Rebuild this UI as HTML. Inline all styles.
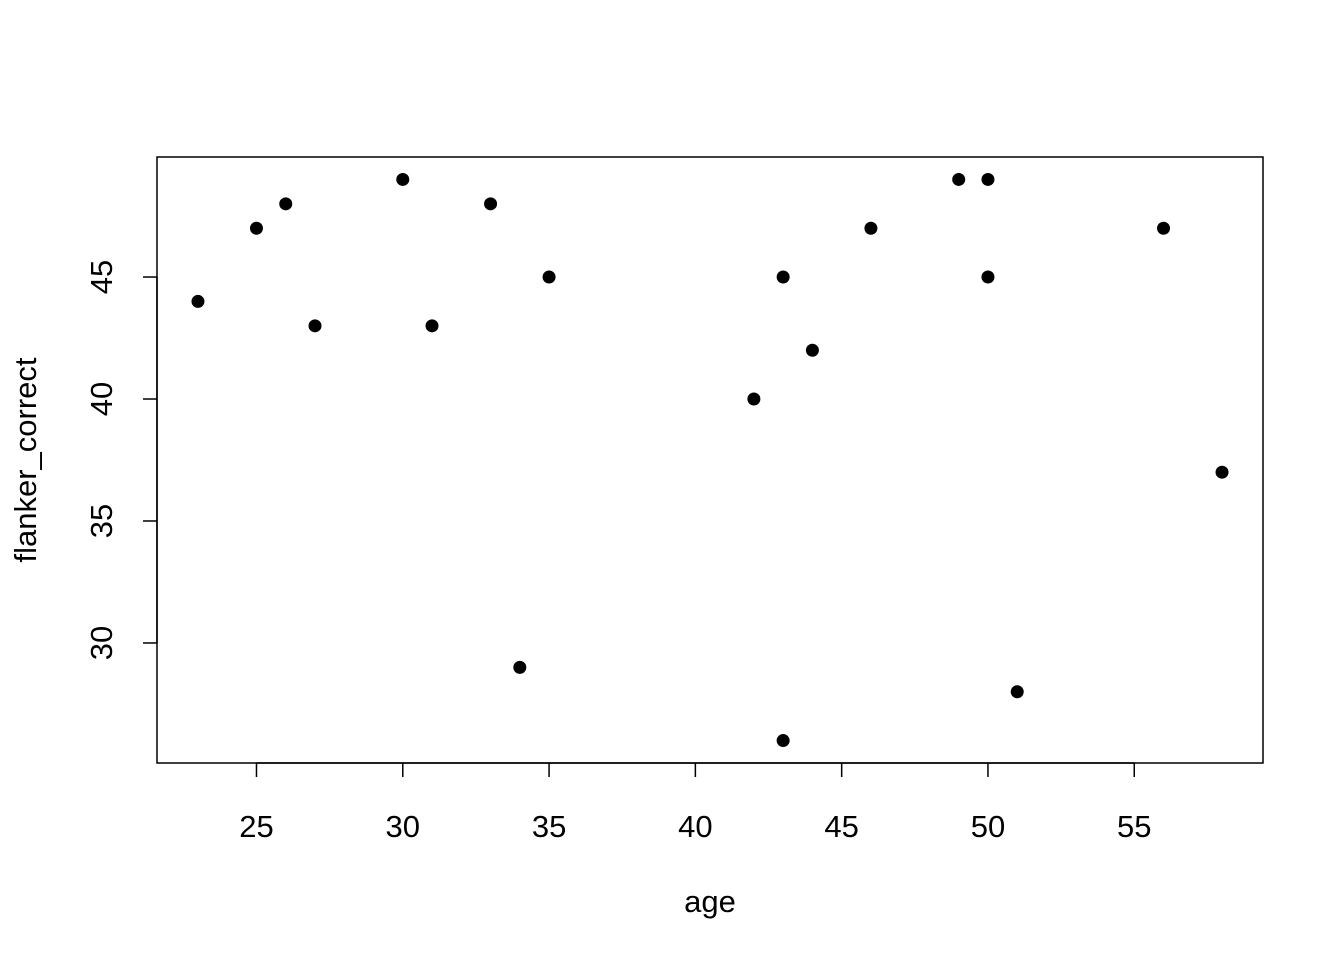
<!DOCTYPE html>
<html><head><meta charset="utf-8"><style>
body{margin:0;background:#fff}
svg text{font-family:"Liberation Sans",Arial,sans-serif;font-size:31px;fill:#000}
</style></head><body>
<svg id="chart" width="1344" height="960">
<rect x="157" y="157" width="1106" height="606" fill="none" stroke="#000" stroke-width="1.5"/>
<g id="xaxis"></g>
<g id="yaxis"></g>
<g id="pts"></g>
<text x="710" y="912" text-anchor="middle">age</text>
<text transform="translate(36,460) rotate(-90)" text-anchor="middle">flanker_correct</text>
</svg>
<script>
const ageValues=[23,25,26,27,30,31,33,34,35,42,43,43,44,46,49,50,50,51,56,58];
const flankerValues=[44,47,48,43,49,43,48,29,45,40,45,26,42,47,49,49,45,28,47,37];
const xTicks=[25,30,35,40,45,50,55];
const yTicks=[30,35,40,45];
const NS="http://www.w3.org/2000/svg";
const L=157,R=1263,T=157,B=763;
const xmin=Math.min(...ageValues),xmax=Math.max(...ageValues);
const ymin=Math.min(...flankerValues),ymax=Math.max(...flankerValues);
const xlo=xmin-0.04*(xmax-xmin),xhi=xmax+0.04*(xmax-xmin);
const ylo=ymin-0.04*(ymax-ymin),yhi=ymax+0.04*(ymax-ymin);
const xs=v=>L+(v-xlo)/(xhi-xlo)*(R-L);
const ys=v=>B-(v-ylo)/(yhi-ylo)*(B-T);
function mk(tag,attrs,parent){const e=document.createElementNS(NS,tag);for(const k in attrs)e.setAttribute(k,attrs[k]);parent.appendChild(e);return e;}
const xa=document.getElementById('xaxis'),ya=document.getElementById('yaxis'),pg=document.getElementById('pts');
mk('line',{x1:xs(xTicks[0]),x2:xs(xTicks[xTicks.length-1]),y1:B,y2:B,stroke:'#000','stroke-width':1.5},xa);
xTicks.forEach(t=>{
  const l=mk('line',{x1:xs(t),x2:xs(t),y1:B,y2:B+14,stroke:'#000','stroke-width':1.5},xa);
  
  
  const tx=mk('text',{x:xs(t),y:837,'text-anchor':'middle'},xa);tx.textContent=t;
  
  
});
mk('line',{x1:L,x2:L,y1:ys(yTicks[0]),y2:ys(yTicks[yTicks.length-1]),stroke:'#000','stroke-width':1.5},ya);
yTicks.forEach(t=>{
  const l=mk('line',{x1:L-14,x2:L,y1:ys(t),y2:ys(t),stroke:'#000','stroke-width':1.5},ya);
  
  
  const tx=mk('text',{transform:`translate(112,${ys(t)}) rotate(-90)`,'text-anchor':'middle'},ya);tx.textContent=t;
  
  
});
ageValues.forEach((a,i)=>{
  const c=mk('circle',{cx:xs(a),cy:ys(flankerValues[i]),r:6.5,fill:'#000'},pg);
  
  
});
</script>
</body></html>
